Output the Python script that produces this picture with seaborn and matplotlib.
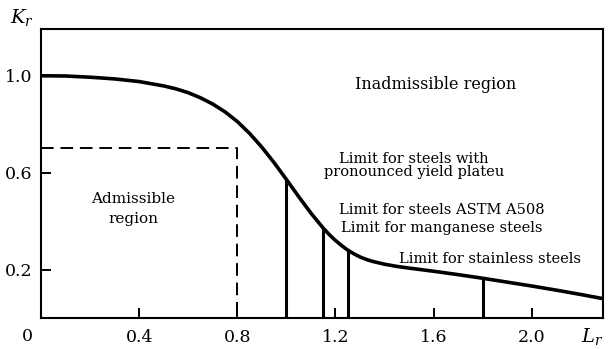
import matplotlib
matplotlib.use("Agg")
import matplotlib.pyplot as plt
import seaborn as sns
import pandas as pd

# Failure assessment curve (Lr, Kr)
lr_values = [0.0, 0.1, 0.2, 0.3, 0.4, 0.5, 0.55, 0.6, 0.65, 0.7, 0.75, 0.8,
             0.85, 0.9, 0.95, 1.0, 1.05, 1.1, 1.15, 1.175, 1.2, 1.225, 1.25,
             1.275, 1.3, 1.325, 1.35, 1.4, 1.45, 1.5, 1.6, 1.7, 1.8, 1.9,
             2.0, 2.1, 2.2, 2.29]
kr_values = [1.000, 0.999, 0.994, 0.987, 0.976, 0.958, 0.946, 0.930, 0.909,
             0.883, 0.851, 0.811, 0.762, 0.705, 0.641, 0.572, 0.501, 0.433,
             0.371, 0.344, 0.320, 0.299, 0.280, 0.265, 0.252, 0.242, 0.234,
             0.222, 0.213, 0.206, 0.193, 0.179, 0.164, 0.148, 0.132, 0.115,
             0.097, 0.080]

# Cut-off limits of Lr for various steels and the curve height there
limit_lr = [1.0, 1.15, 1.25, 1.8]
limit_kr = [0.572, 0.371, 0.280, 0.164]

# Admissible-region corner
box_lr = 0.8
box_kr = 0.7

x_ticks = [0.4, 0.8, 1.2, 1.6, 2.0]
x_tick_labels = ["0.4", "0.8", "1.2", "1.6", "2.0"]
y_ticks = [0.2, 0.6, 1.0]
y_tick_labels = ["0.2", "0.6", "1.0"]

sns.set_style("ticks")
plt.rcParams["font.family"] = ["DejaVu Serif"]
plt.rcParams["mathtext.fontset"] = "dejavuserif"
for key in ["text.color", "axes.edgecolor", "axes.labelcolor",
            "xtick.color", "ytick.color", "xtick.labelcolor",
            "ytick.labelcolor"]:
    plt.rcParams[key] = "black"

fig = plt.figure(figsize=(6.10, 3.49), dpi=100)
ax = fig.add_axes([0.0672, 0.0888, 0.9213, 0.8295])

curve = pd.DataFrame({"Lr": lr_values, "Kr": kr_values})
sns.lineplot(data=curve, x="Lr", y="Kr", ax=ax, color="black", lw=2.6,
             solid_capstyle="butt", solid_joinstyle="round", zorder=3)

ax.vlines(limit_lr, 0, limit_kr, colors="black", lw=2.2, zorder=2)

ax.plot([0, box_lr, box_lr], [box_kr, box_kr, 0], color="black", lw=1.4,
        dashes=(6.5, 3.5), zorder=2)

ax.set_xlim(0, 2.29)
ax.set_ylim(0, 1.195)
ax.set_xticks(x_ticks)
ax.set_xticklabels(x_tick_labels)
ax.set_yticks(y_ticks)
ax.set_yticklabels(y_tick_labels)
ax.tick_params(direction="in", length=7, width=1.4, labelsize=12.5)
ax.tick_params(axis="x", pad=8)
ax.tick_params(axis="y", pad=6)
ax.set_xlabel("")
ax.set_ylabel("")
for sp in ax.spines.values():
    sp.set_linewidth(1.5)
    sp.set_visible(True)

ax.annotate("0", xy=(0, 0), xycoords="data", xytext=(-10, -13.5),
            textcoords="offset points", ha="center", va="center",
            fontsize=12.5)
ax.annotate("$K_r$", xy=(0, 1.195), xycoords="data", xytext=(-14, 8),
            textcoords="offset points", ha="center", va="center",
            fontsize=14)
ax.annotate("$L_r$", xy=(2.29, 0), xycoords="data", xytext=(-8, -13),
            textcoords="offset points", ha="center", va="center",
            fontsize=14)

fs = 11
ax.text(1.61, 0.965, "Inadmissible region", ha="center", va="center",
        fontsize=fs + 0.5)
ax.text(0.375, 0.45, "Admissible\nregion", ha="center", va="center",
        fontsize=fs, linespacing=1.5)
ax.text(1.52, 0.63, "Limit for steels with\npronounced yield plateu",
        ha="center", va="center", fontsize=fs - 0.5, linespacing=0.88)
ax.text(1.635, 0.445, "Limit for steels ASTM A508", ha="center",
        va="center", fontsize=fs - 0.5)
ax.text(1.635, 0.37, "Limit for manganese steels", ha="center",
        va="center", fontsize=fs - 0.5)
ax.text(1.83, 0.245, "Limit for stainless steels", ha="center",
        va="center", fontsize=fs - 0.5)

fig.savefig("out.png", dpi=100)
